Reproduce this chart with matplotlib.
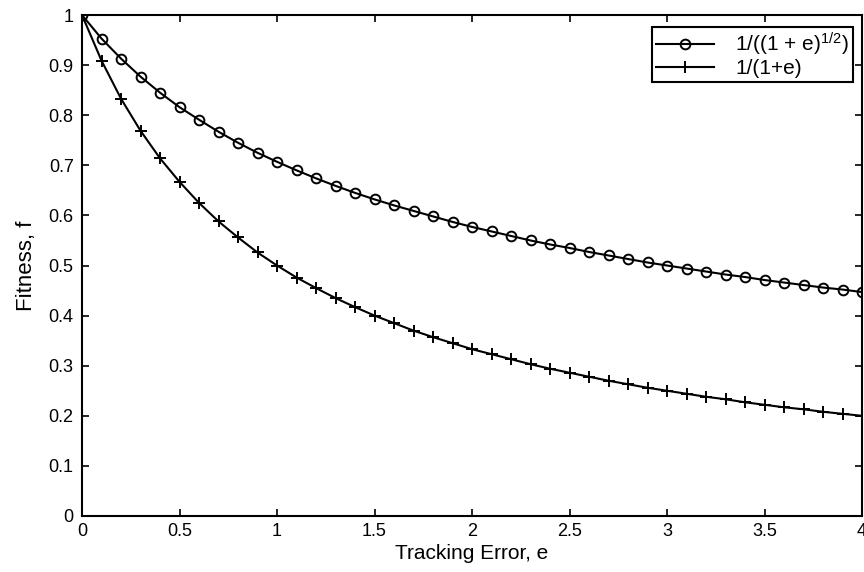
import matplotlib
matplotlib.use("Agg")
import matplotlib.pyplot as plt

plt.rcParams['font.family'] = ['Liberation Sans', 'DejaVu Sans']
plt.rcParams['mathtext.default'] = 'regular'

error = [0.0, 0.1, 0.2, 0.3, 0.4, 0.5, 0.6, 0.7, 0.8, 0.9, 1.0,
         1.1, 1.2, 1.3, 1.4, 1.5, 1.6, 1.7, 1.8, 1.9, 2.0,
         2.1, 2.2, 2.3, 2.4, 2.5, 2.6, 2.7, 2.8, 2.9, 3.0,
         3.1, 3.2, 3.3, 3.4, 3.5, 3.6, 3.7, 3.8, 3.9, 4.0]
fitness_sqrt = [1.000, 0.953, 0.913, 0.877, 0.845, 0.816, 0.791, 0.767, 0.745, 0.725, 0.707,
                0.690, 0.674, 0.659, 0.645, 0.632, 0.620, 0.609, 0.598, 0.587, 0.577,
                0.568, 0.559, 0.550, 0.542, 0.535, 0.527, 0.520, 0.513, 0.506, 0.500,
                0.494, 0.488, 0.482, 0.477, 0.471, 0.466, 0.461, 0.456, 0.452, 0.447]
fitness_inv = [1.000, 0.909, 0.833, 0.769, 0.714, 0.667, 0.625, 0.588, 0.556, 0.526, 0.500,
               0.476, 0.455, 0.435, 0.417, 0.400, 0.385, 0.370, 0.357, 0.345, 0.333,
               0.323, 0.313, 0.303, 0.294, 0.286, 0.278, 0.270, 0.263, 0.256, 0.250,
               0.244, 0.238, 0.233, 0.227, 0.222, 0.217, 0.213, 0.208, 0.204, 0.200]
xticks = [0, 0.5, 1, 1.5, 2, 2.5, 3, 3.5, 4]
xticklabels = ['0', '0.5', '1', '1.5', '2', '2.5', '3', '3.5', '4']
yticks = [0, 0.1, 0.2, 0.3, 0.4, 0.5, 0.6, 0.7, 0.8, 0.9, 1]
yticklabels = ['0', '0.1', '0.2', '0.3', '0.4', '0.5', '0.6', '0.7', '0.8', '0.9', '1']

fig = plt.figure(figsize=(8.64, 5.72), dpi=100)
ax = fig.add_axes([82/864, 1-516/572, 780/864, 501/572])

ax.plot(error, fitness_sqrt, color='black', lw=1.5, marker='o', markersize=7,
        markerfacecolor='none', markeredgewidth=1.4, label='1/((1 + e)$^{1/2}$)')
ax.plot(error, fitness_inv, color='black', lw=1.5, marker='+', markersize=9,
        markeredgewidth=1.4, label='1/(1+e)')

ax.set_xlim(0, 4)
ax.set_ylim(0, 1)
ax.set_xticks(xticks)
ax.set_xticklabels(xticklabels)
ax.set_yticks(yticks)
ax.set_yticklabels(yticklabels)
ax.tick_params(direction='in', top=True, right=True, labelsize=13, length=5, width=1.2)
ax.tick_params(axis='y', pad=6)
ax.tick_params(axis='x', pad=5)
for s in ax.spines.values():
    s.set_linewidth(1.5)

ax.set_xlabel('Tracking Error, e', fontsize=15, labelpad=3)
ax.set_ylabel('Fitness, f', fontsize=16, labelpad=8)

leg = ax.legend(loc='upper right', bbox_to_anchor=(0.989, 0.977), borderaxespad=0,
                fancybox=False, edgecolor='black', fontsize=15, handlelength=2.8,
                handletextpad=1.0, borderpad=0.2, labelspacing=0.05, framealpha=1)
leg.get_frame().set_linewidth(1.5)

fig.savefig('out.png', dpi=100)
